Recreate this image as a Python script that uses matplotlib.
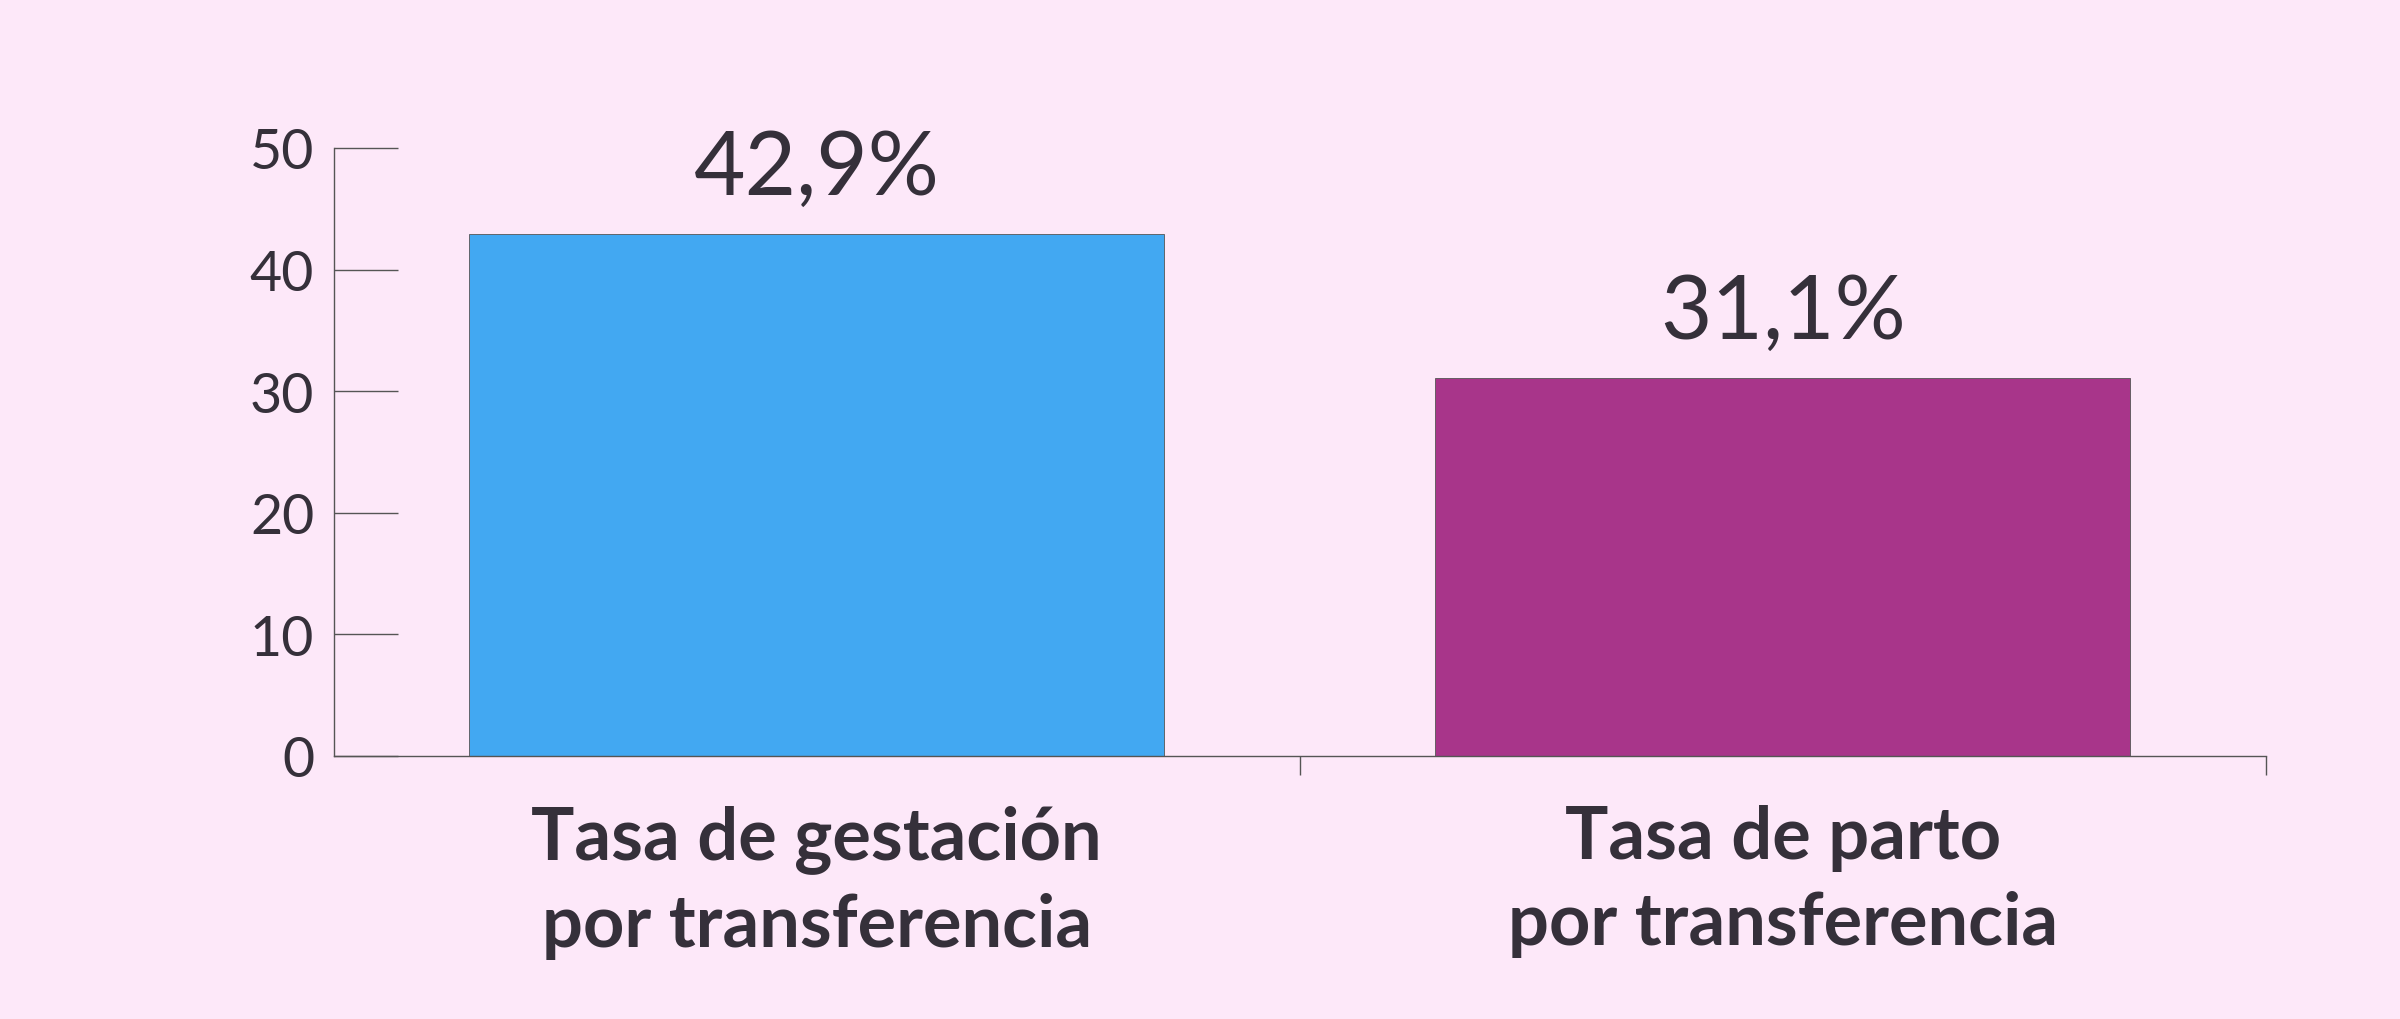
import matplotlib.pyplot as plt

categories = ['Tasa de gestación\npor transferencia', 'Tasa de parto\npor transferencia']
values = [42.9, 31.1]
value_labels = ['42,9%', '31,1%']
colors = ['#42a8f2', '#a8358a']

bg = '#fde8f9'
ink = '#35303a'
plt.rcParams['font.family'] = ['Lato', 'DejaVu Sans']

fig = plt.figure(figsize=(24, 10.2), dpi=100, facecolor=bg)
ax = fig.add_axes([0.139, 0.258, 0.805, 0.596], facecolor=bg)

x = range(len(categories))
ax.bar(x, values, width=0.72, color=colors, edgecolor='#555555', linewidth=0.6)
for xi, v, lab in zip(x, values, value_labels):
    ax.text(xi, v + 2, lab, ha='center', va='bottom', fontsize=64, color=ink, fontweight='normal')

ax.set_xlim(-0.5, 1.5)
ax.set_ylim(0, 50)
ax.set_yticks(range(0, 51, 10))
ax.tick_params(axis='y', direction='in', length=46, width=1, color='#555555',
               labelsize=40, labelcolor=ink, pad=14)
ax.set_xticks([0.5, 1.5])
ax.set_xticklabels([])
ax.tick_params(axis='x', direction='out', length=14, width=1, color='#555555')
for xi, cat in zip(x, categories):
    ax.text(xi, -4, cat, ha='center', va='top', fontsize=52, fontweight='bold',
            color=ink, linespacing=1.35, transform=ax.transData)

for s in ['top', 'right']:
    ax.spines[s].set_visible(False)
for s in ['left', 'bottom']:
    ax.spines[s].set_color('#555555')
    ax.spines[s].set_linewidth(1)

fig.savefig('out.png', facecolor=bg)
